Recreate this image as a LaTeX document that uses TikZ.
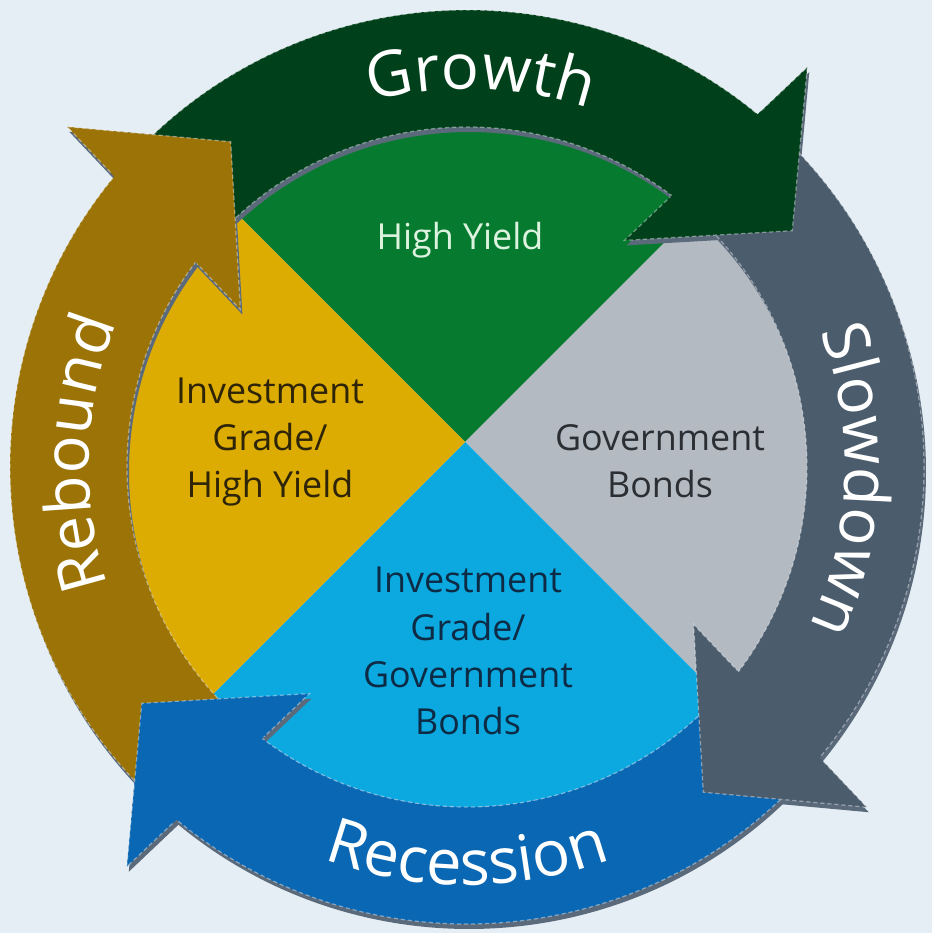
\documentclass[tikz,border=0pt]{standalone}
\usepackage{fontspec}
\setmainfont{Open Sans}
\definecolor{cyclebg}{HTML}{E5EEF4}
\definecolor{growthgreen}{HTML}{00411B}
\definecolor{slowgray}{HTML}{4B5C6D}
\definecolor{recblue}{HTML}{0A67B3}
\definecolor{rebgold}{HTML}{9B7306}
\definecolor{hygreen}{HTML}{067B2F}
\definecolor{govgray}{HTML}{B3BAC2}
\definecolor{igcyan}{HTML}{0BA9E0}
\definecolor{iggold}{HTML}{DDAC02}
\definecolor{shadegray}{HTML}{5B6A7B}
\definecolor{hytext}{HTML}{DDF3DF}
\definecolor{goldtext}{HTML}{2E2408}
\definecolor{graytext}{HTML}{2B2F33}
\definecolor{cyantext}{HTML}{0D2B45}
\usetikzlibrary{calc,decorations.text}
\newcommand\ringfont{\fontsize{18}{20}\selectfont}
\newcommand\piefont{\fontsize{10.2}{13.4}\selectfont}
\tikzset{
  edgeline/.style={draw=white, draw opacity=0.4, line width=0.35pt, dash pattern=on 1.2pt off 0.8pt},
  dropshade/.style={fill=shadegray, xshift=0.02cm, yshift=-0.05cm},
  ringtext/.style={decorate, decoration={text along path, text align=center, text color=white, text={|\ringfont|#1}}},
  pietext/.style={font=\piefont, align=center}
}

\begin{document}
\begin{tikzpicture}
\useasboundingbox (-4.67,-4.66) rectangle (4.65,4.67);
\fill[cyclebg] (-4.67,-4.66) rectangle (4.65,4.67);
\coordinate (O) at (0,0);
\coordinate (P) at (-0.02,0.25);

% pie
\begin{scope}
\clip (O) circle (3.4);
\fill[hygreen] (P) -- ($(P)+(135:6)$) -- ($(P)+(45:6)$) -- cycle;
\fill[govgray] (P) -- ($(P)+(45:6)$) -- ($(P)+(-45:6)$) -- cycle;
\fill[igcyan] (P) -- ($(P)+(-45:6)$) -- ($(P)+(-135:6)$) -- cycle;
\fill[iggold] (P) -- ($(P)+(-135:6)$) -- ($(P)+(135:6)$) -- cycle;
\end{scope}

% shadows under the ring
\foreach \t in {36,-54,-144,126} {
  \fill[dropshade] ({\t+12}:3.4) arc[start angle=\t+12, end angle=\t+100, radius=3.4]
    -- ({\t+100}:4.57) arc[start angle=\t+100, end angle=\t+12, radius=4.57] -- cycle;
  \fill[dropshade] ({\t+13.6}:5.25) -- (\t:4.02) -- ({\t+19.2}:2.76) -- cycle;
}

% ring bands
\foreach \t/\col in {36/growthgreen, -54/slowgray, -144/recblue, 126/rebgold} {
  \path[fill=\col, edgeline] ({\t+12}:3.4) arc[start angle=\t+12, end angle=\t+100, radius=3.4]
    -- ({\t+100}:4.57) arc[start angle=\t+100, end angle=\t+12, radius=4.57] -- cycle;
}

% arrow heads
\foreach \t/\col in {36/growthgreen, -54/slowgray, -144/recblue, 126/rebgold} {
  \coordinate (A) at ({\t+13.6}:5.25);
  \coordinate (T) at (\t:4.02);
  \coordinate (C) at ({\t+19.2}:2.76);
  \begin{scope}
  \clip (O) -- ({\t+10}:7) -- ({\t-20}:7) -- ({\t-50}:7) -- cycle;
  \fill[dropshade] (A) -- (T) -- (C) -- cycle;
  \end{scope}
  \fill[\col] (A) -- (T) -- (C) -- cycle;
  \draw[edgeline] ($(A)!0.25!(C)$) -- (A) -- (T) -- (C) -- ($(A)!0.75!(C)$);
}

\node[pietext, text=hytext] (hy) at (-0.07,2.27) {High Yield};
\node[pietext, text=goldtext] (ighy) at (-1.97,0.25) {Investment\\Grade/\\High Yield};
\node[pietext, text=graytext] (gov) at (1.93,0.06) {Government\\Bonds};
\node[pietext, text=cyantext] (iggov) at (0.01,-1.84) {Investment\\Grade/\\Government\\Bonds};

\path[ringtext=Growth] (128:3.78) arc[start angle=128, end angle=48, radius=3.78];
\path[ringtext=Slowdown] (38:3.78) arc[start angle=38, end angle=-42, radius=3.78];
\path[ringtext=Recession] (-130:4.18) arc[start angle=-130, end angle=-50, radius=4.18];
\path[ringtext=Rebound] (218:3.78) arc[start angle=218, end angle=138, radius=3.78];
\end{tikzpicture}
\end{document}
